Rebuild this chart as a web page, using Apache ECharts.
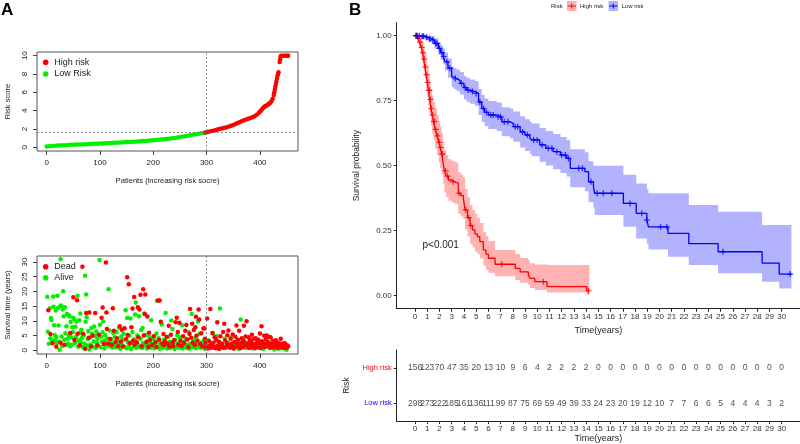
<!DOCTYPE html>
<html><head><meta charset="utf-8">
<script src="https://cdn.jsdelivr.net/npm/echarts@6/dist/echarts.min.js"></script>
<style>html,body{margin:0;padding:0;background:#fff}#c{width:800px;height:444px}</style>
</head><body><div id="c"></div>
<script>
// ---------------- DATA ----------------
// Panel A top: risk score (sorted) by patient index
const lowRiskPatient = [0,5,10,15,20,25,30,35,40,45,50,55,60,65,70,75,80,85,90,95,100,105,110,115,120,125,130,135,140,145,150,155,160,165,170,175,180,185,190,195,200,205,210,215,220,225,230,235,240,245,250,255,260,265,270,275,280,285,290,295,297];
const lowRiskScore   = [0.08,0.12,0.15,0.17,0.19,0.21,0.22,0.24,0.25,0.27,0.28,0.3,0.31,0.32,0.34,0.35,0.36,0.38,0.39,0.4,0.42,0.43,0.45,0.46,0.48,0.49,0.51,0.52,0.54,0.55,0.57,0.58,0.6,0.62,0.64,0.66,0.68,0.7,0.72,0.74,0.77,0.8,0.82,0.85,0.88,0.91,0.95,0.98,1.02,1.07,1.12,1.17,1.22,1.27,1.32,1.38,1.43,1.48,1.53,1.57,1.59];
const highRiskPatient = [298,302,306,310,314,318,322,326,330,334,338,342,346,350,354,358,362,366,370,374,378,382,386,390,394,398,400,402,404,406,408,410,412,414,416,418,420,422,424,426,427,428,429,430,431,432,433,434,435,437,438,439,440,443,446,449,452,453];
const highRiskScore   = [1.61,1.66,1.72,1.78,1.84,1.9,1.96,2.02,2.08,2.14,2.2,2.28,2.36,2.45,2.55,2.65,2.75,2.85,2.95,3.05,3.12,3.2,3.28,3.38,3.55,3.75,3.9,4.0,4.15,4.3,4.4,4.5,4.55,4.62,4.7,4.8,4.9,5.05,5.3,5.7,6.0,6.3,6.6,6.9,7.2,7.5,7.8,8.0,8.2,9.3,9.6,9.9,10,10,10,10,10,10];
const riskCutoff = 1.6;
const groupSplit = 298.5;

// Panel A bottom: survival time (years) by patient index
const alivePatients = [[1,18.2],[2,6.3],[4,2.2],[6,14.3],[7,4.1],[8,11],[9,10.3],[10,3.2],[12,18.3],[13,14.8],[14,8.5],[15,5.2],[16,3.5],[17,13.5],[18,4.5],[19,2.5],[20,18.5],[21,14.4],[22,8.4],[23,2.8],[24,0.2],[25,14.9],[26,30.9],[27,15.2],[28,4.7],[29,1.5],[30,13.9],[31,20.1],[32,11.6],[33,3.6],[34,14.6],[35,5.8],[36,1.8],[37,8.2],[38,12.3],[39,3.9],[40,2.2],[41,12],[42,5],[43,11.5],[44,1.4],[45,9.6],[46,4.4],[47,1.9],[48,7.8],[49,6.1],[50,11],[52,10.5],[53,2.5],[54,8],[55,4.5],[56,9.8],[58,18.5],[59,1.2],[60,3.3],[61,10.2],[62,5.9],[63,12.5],[64,2.7],[65,7],[66,4.2],[68,1],[70,5.2],[71,2.2],[72,25.3],[73,9.7],[74,19],[75,11.2],[76,1.6],[77,3.8],[78,6.5],[80,0.3],[81,4.3],[82,2],[84,7.6],[85,5.6],[86,1.3],[88,3],[89,8.1],[90,4.9],[92,0.8],[93,6.4],[94,2.6],[95,3.9],[96,1.7],[97,5.3],[99,30.7],[100,8.7],[101,1.1],[102,4.6],[104,2.9],[105,6.1],[106,9.8],[108,0.6],[109,3.3],[110,5.1],[112,1.8],[114,4],[116,20.7],[117,1.4],[118,6.7],[120,2.5],[121,3.7],[123,0.9],[125,5.8],[127,2.1],[128,4.4],[130,1],[131,6.2],[133,3],[135,2.3],[136,7.7],[138,0.5],[140,4.6],[141,1.9],[143,3.4],[144,5.6],[146,1.2],[148,13.6],[150,0.7],[151,11],[152,2.8],[154,1.5],[155,4.9],[157,10.8],[158,0.4],[160,2.6],[161,6.2],[163,1.3],[165,3.7],[166,12.2],[167,16.2],[168,0.9],[170,5],[171,2],[173,11.6],[174,1.1],[176,3.9],[177,6.9],[179,0.8],[180,7.6],[181,2.4],[183,12.5],[184,1.6],[186,5.2],[188,0.6],[189,3.1],[190,1.9],[192,2.6],[193,4.5],[195,0.9],[196,10.2],[197,2.2],[199,1.5],[200,3.8],[202,0.7],[203,1.8],[205,2.9],[206,5.7],[207,16.8],[208,1.2],[210,4.1],[212,0.5],[213,2.3],[215,1.6],[216,8.8],[218,0.9],[220,3.6],[221,1.8],[223,12.7],[224,2.5],[226,0.6],[228,4.6],[229,1.4],[231,2.9],[232,0.8],[234,10.1],[235,1.5],[236,7.2],[238,2.1],[240,0.4],[241,3.6],[243,1.1],[245,5.1],[246,2.4],[248,0.9],[250,4.4],[252,1.7],[254,8.5],[255,0.6],[257,2.8],[259,1.3],[261,3.9],[263,0.8],[265,1.9],[267,6.1],[268,0.5],[270,2.2],[272,12.3],[273,1],[275,3.1],[277,1.6],[279,4.3],[280,0.7],[282,2.4],[284,9.8],[285,1.2],[287,5.6],[289,0.9],[291,2.7],[293,1.5],[295,3.4],[296,0.5],[300,1.3],[303,3.4],[306,0.8],[309,2.1],[312,5.7],[316,1.1],[319,4.8],[322,0.6],[325,14.2],[327,2.3],[330,1.6],[334,3.9],[337,0.9],[340,2.6],[343,1.4],[346,4.3],[350,0.7],[353,1.9],[357,3.1],[360,0.5],[364,10.5],[367,1.8],[371,2.9],[374,0.8],[378,1.5],[382,2.2],[386,0.6],[390,1.3],[394,3.5],[398,0.9],[402,1.9],[406,0.4],[410,1.2],[414,2.4],[418,0.7],[422,1.6],[427,0.3],[431,1.1],[436,0.5],[440,1.8],[445,0.6],[450,0.2]];
const deadPatients = [[3,13.6],[7,5.5],[11,2.4],[18,1.2],[26,2.6],[33,1.9],[44,5.9],[50,18],[52,3.5],[57,17],[58,5.6],[62,1.7],[67,28.4],[68,5.6],[72,0.5],[74,12.7],[79,4.3],[80,12.8],[83,1.3],[86,4.9],[91,12.7],[95,1.6],[98,5.3],[103,11.1],[105,14.5],[107,2.1],[111,29.8],[112,12.8],[113,7.2],[115,2.3],[119,3.8],[122,1.8],[124,14.3],[126,6.6],[129,2.8],[132,4.1],[134,1.4],[137,8.2],[139,3],[141,7],[143,1.3],[146,7.5],[149,3.8],[151,24.8],[152,5.2],[154,22.4],[156,2.4],[159,7.8],[161,14.2],[162,3.3],[164,18.1],[165,1.9],[169,2.7],[171,14.6],[172,4.4],[174,13.9],[176,18.9],[178,1.4],[181,20.7],[182,5],[184,12.3],[185,19],[187,2.8],[189,11.5],[191,1.2],[192,6],[194,3.5],[198,1.8],[201,4.8],[204,2.7],[206,1.1],[209,16.9],[211,3.6],[212,16.9],[214,9.7],[217,2.3],[219,5.5],[220,1.7],[222,3.1],[225,4.5],[227,2.2],[229,8.3],[230,1.3],[233,5.3],[236,2.6],[237,1.4],[239,3.4],[242,9.5],[244,11.1],[246,6.2],[247,1.9],[249,9.4],[251,3.2],[253,1.5],[256,4.8],[258,2.5],[260,6.6],[262,8.6],[264,3.7],[266,1.1],[268,5.5],[269,14],[271,4.3],[273,9],[274,2.6],[276,6.9],[278,1.8],[279,7.8],[280,11.4],[281,4.9],[283,3.2],[285,13.9],[286,10.5],[288,2.1],[290,5.8],[292,1.3],[294,7.4],[296,7.5],[297,3.9],[298,2.5],[299,1.0],[301,10.8],[302,0.6],[304,1.4],[305,3.1],[307,14],[308,1.9],[310,0.9],[311,5.9],[313,2.6],[314,1.2],[315,4.4],[317,0.7],[318,3.5],[320,9.5],[321,1.6],[323,2.9],[324,0.5],[326,4.8],[328,1.3],[329,2.2],[331,6.2],[332,0.8],[333,9],[335,3.3],[336,1.1],[338,2.4],[339,5.1],[341,6.7],[342,1.7],[344,0.9],[345,3.9],[347,2.2],[348,1.4],[349,5.4],[351,0.6],[352,2.8],[354,4.6],[355,1.2],[356,8.4],[358,2.1],[359,3.6],[361,6.6],[362,1.5],[363,0.7],[365,2.6],[366,4.1],[368,1],[369,3.2],[370,8.3],[372,1.9],[373,4.7],[375,9.9],[376,2.4],[377,1.3],[379,4.4],[380,0.8],[381,3.5],[383,1.8],[384,2.7],[385,5.3],[387,1.1],[388,3.9],[389,2.1],[391,0.7],[392,4.1],[393,1.6],[395,2.8],[396,1.2],[397,3.6],[399,2.2],[400,5.7],[401,0.8],[403,8.2],[404,3.1],[405,1.5],[407,2.6],[408,4.9],[409,1],[411,3.8],[412,1.9],[413,5],[415,2.9],[416,4.6],[417,1.3],[419,2.2],[420,4.4],[421,0.9],[423,1.7],[424,3.2],[425,2.3],[426,1],[428,2.7],[429,1.5],[430,3.4],[432,2],[433,0.8],[434,1.8],[435,2.6],[437,1.2],[438,2],[439,3.9],[441,1.5],[442,0.9],[443,2.3],[444,1.7],[446,1.1],[447,2.4],[448,1.6],[449,0.8],[451,1.7],[452,1.2],[453,1.4]];

// Panel B: Kaplan-Meier estimates with confidence bands
const highTime  = [0,0.2,0.35,0.5,0.6,0.7,0.8,0.9,1.0,1.1,1.2,1.3,1.4,1.5,1.65,1.8,1.95,2.05,2.18,2.3,2.4,2.55,2.73,3.0,3.27,3.54,3.75,3.95,4.09,4.3,4.5,4.7,4.9,5.1,5.3,5.59,5.8,6.0,6.55,8.2,8.6,9.27,9.4,9.8,10.8,14.05,14.26];
const highSurv  = [1,0.99,0.975,0.955,0.935,0.91,0.88,0.85,0.82,0.79,0.755,0.72,0.695,0.67,0.64,0.615,0.59,0.57,0.545,0.51,0.48,0.46,0.445,0.438,0.432,0.394,0.385,0.375,0.33,0.3,0.27,0.253,0.238,0.227,0.208,0.176,0.16,0.144,0.121,0.105,0.092,0.08,0.067,0.054,0.035,0.019,0.019];
const highUpper = [1,1,1,0.99,0.975,0.955,0.93,0.905,0.88,0.85,0.82,0.79,0.77,0.745,0.72,0.695,0.67,0.65,0.625,0.59,0.56,0.54,0.525,0.518,0.512,0.475,0.465,0.455,0.41,0.38,0.35,0.33,0.315,0.3,0.28,0.245,0.23,0.21,0.176,0.16,0.145,0.135,0.125,0.12,0.118,0.118,0.118];
const highLower = [1,0.98,0.955,0.93,0.9,0.87,0.835,0.8,0.765,0.73,0.69,0.655,0.625,0.6,0.565,0.54,0.51,0.49,0.465,0.43,0.4,0.38,0.365,0.358,0.352,0.315,0.305,0.295,0.255,0.228,0.2,0.185,0.17,0.16,0.143,0.115,0.1,0.088,0.075,0.06,0.05,0.04,0.03,0.022,0.012,0.004,0.004];
const highCensor = [0.05,0.12,0.3,0.42,0.55,0.65,0.75,0.85,0.95,1.03,1.12,1.17,1.25,1.33,1.45,1.55,1.6,1.7,1.85,2.0,2.12,2.2,2.25,2.5,2.65,3.1,3.6,4.15,4.4,4.55,7.1,10.5,14.2];

const lowTime  = [0,0.5,0.8,1.1,1.36,1.6,1.91,2.1,2.3,2.45,2.7,3.0,3.2,3.4,3.68,4.0,4.23,4.5,4.9,5.2,5.46,5.7,6.0,6.68,7.1,7.77,8.04,8.6,9.0,9.4,9.55,10.2,10.7,11.3,11.9,12.4,12.7,13.9,14.2,14.6,14.7,17.05,18.1,18.97,19.1,20.7,22.4,24.8,28.4,29.8,30.8];
const lowSurv  = [1,0.998,0.994,0.988,0.983,0.97,0.951,0.935,0.92,0.9,0.875,0.842,0.835,0.828,0.817,0.8,0.791,0.785,0.778,0.745,0.72,0.705,0.695,0.688,0.669,0.663,0.65,0.63,0.618,0.607,0.599,0.58,0.567,0.554,0.541,0.528,0.49,0.477,0.438,0.419,0.394,0.355,0.317,0.291,0.265,0.24,0.2,0.169,0.125,0.083,0.083];
const lowUpper = [1,1,1,1,1,0.99,0.976,0.963,0.951,0.935,0.912,0.882,0.876,0.87,0.86,0.845,0.837,0.832,0.826,0.795,0.772,0.758,0.749,0.743,0.725,0.72,0.708,0.69,0.679,0.669,0.662,0.645,0.633,0.622,0.61,0.598,0.563,0.552,0.517,0.5,0.5,0.465,0.432,0.41,0.394,0.394,0.349,0.323,0.272,0.272,0.272];
const lowLower = [1,0.99,0.984,0.975,0.966,0.95,0.926,0.907,0.89,0.866,0.838,0.802,0.794,0.786,0.774,0.755,0.745,0.738,0.73,0.695,0.668,0.652,0.641,0.633,0.613,0.606,0.592,0.57,0.557,0.545,0.536,0.515,0.501,0.486,0.472,0.458,0.417,0.402,0.359,0.338,0.31,0.265,0.22,0.2,0.178,0.15,0.118,0.086,0.054,0.028,0.028];
const lowCensor = [0.1,0.2,0.35,0.6,0.7,0.95,1.2,1.45,1.7,1.8,2.0,2.2,2.35,2.6,2.85,3.3,3.8,4.1,4.35,4.7,5.0,5.3,5.6,5.85,6.2,6.4,6.8,7.0,7.3,7.6,8.2,8.4,8.8,9.2,9.7,10.0,10.4,10.9,11.2,11.6,12.0,12.3,12.55,13.4,13.7,14.4,14.9,15.4,16.1,17.6,18.55,18.97,20.1,20.6,25.2,30.7];

// Risk table: number at risk
const tableTimes = [0,1,2,3,4,5,6,7,8,9,10,11,12,13,14,15,16,17,18,19,20,21,22,23,24,25,26,27,28,29,30];
const highAtRisk = [156,123,70,47,35,20,13,10,9,6,4,2,2,2,2,0,0,0,0,0,0,0,0,0,0,0,0,0,0,0,0];
const lowAtRisk  = [298,273,222,185,161,136,111,99,87,75,69,59,49,39,33,24,23,20,19,12,10,7,7,6,6,5,4,4,4,3,2];
const tableGroups = ['Low risk','High risk'];

// Tick labels
const patientTicks = [0,100,200,300,400];
const riskTicks = [0,2,4,6,8,10];
const survTimeTicks = [0,5,10,15,20,25,30];
const probTicks = [0,0.25,0.5,0.75,1];

// ---------------- CHART ----------------
const FONT = "'Liberation Sans', Arial, Helvetica, sans-serif";
const RED = '#FF0000', GREEN = '#00F000', BLUE = '#0000FF', INK = '#222';
const PLUS = 'path://M0.8,0H1.2V0.8H2V1.2H1.2V2H0.8V1.2H0V0.8H0.8Z';

function stepAt(T, S, t) { let v = S[0]; for (let i = 0; i < T.length; i++) { if (T[i] <= t) v = S[i]; else break; } return v; }

function rAxisX(gi) {
  return { gridIndex: gi, type: 'value', min: -18.2, max: 471.5,
    axisLine: { show: false, onZero: false },
    axisTick: { show: true, customValues: patientTicks, length: 4, lineStyle: { color: '#444' } },
    axisLabel: { customValues: patientTicks, fontSize: 8, color: INK, margin: 8, fontFamily: FONT },
    splitLine: { show: false },
    name: 'Patients (increasing risk socre)', nameLocation: 'middle', nameGap: 26,
    nameTextStyle: { fontSize: 7.6, color: INK, fontFamily: FONT } };
}
function rAxisY(gi, min, max, ticks, name) {
  return { gridIndex: gi, type: 'value', min, max,
    axisLine: { show: false, onZero: false },
    axisTick: { show: true, customValues: ticks, length: 4, lineStyle: { color: '#444' } },
    axisLabel: { customValues: ticks, rotate: 90, fontSize: 8, color: INK, margin: 8, fontFamily: FONT },
    splitLine: { show: false },
    name, nameLocation: 'middle', nameGap: 25,
    nameTextStyle: { fontSize: 7.6, color: INK, fontFamily: FONT } };
}
function kmAxisX(gi, nameGap) {
  return { gridIndex: gi, type: 'value', min: -1.5, max: 31.5,
    axisLine: { show: true, onZero: false, lineStyle: { color: INK, width: 1 } },
    axisTick: { show: true, customValues: tableTimes, length: 3, lineStyle: { color: INK } },
    axisLabel: { customValues: tableTimes, fontSize: 8, color: '#333', margin: 4, fontFamily: FONT },
    splitLine: { show: false },
    name: 'Time(years)', nameLocation: 'middle', nameGap,
    nameTextStyle: { fontSize: 9, color: INK, fontFamily: FONT } };
}
// confidence band drawn as one stepped polygon through the axis scales
function band(T, L, U, color) {
  return { type: 'custom', xAxisIndex: 2, yAxisIndex: 2, silent: true, z: 1,
    data: [[T[0], U[0]]],
    renderItem: (params, api) => {
      const n = T.length, pts = [];
      for (let i = 0; i < n; i++) {
        const xe = i < n - 1 ? T[i + 1] : T[i];
        pts.push(api.coord([T[i], U[i]]), api.coord([xe, U[i]]));
      }
      for (let i = n - 1; i >= 0; i--) {
        const xe = i < n - 1 ? T[i + 1] : T[i];
        pts.push(api.coord([xe, L[i]]), api.coord([T[i], L[i]]));
      }
      return { type: 'polygon', shape: { points: pts }, style: { fill: color } };
    } };
}
function kmLine(T, S, color) {
  return { type: 'line', xAxisIndex: 2, yAxisIndex: 2, step: 'end', symbol: 'none', silent: true,
    lineStyle: { color, width: 1.3 }, data: T.map((t, i) => [t, S[i]]), z: 3 };
}
function censor(T, S, C, color) {
  return { type: 'scatter', xAxisIndex: 2, yAxisIndex: 2, symbol: PLUS, symbolSize: 6, silent: true,
    itemStyle: { color }, data: C.map(t => [t, stepAt(T, S, t)]), z: 4 };
}
function tableRow(name, counts) {
  return { type: 'scatter', xAxisIndex: 3, yAxisIndex: 3, symbolSize: 1, silent: true,
    itemStyle: { color: 'rgba(0,0,0,0)' },
    label: { show: true, position: 'inside', formatter: p => String(p.value[2]), fontSize: 8.5, color: INK, fontFamily: FONT },
    data: tableTimes.map((t, i) => [t, name, counts[i]]) };
}
function legendDot(x, y, color, text) {
  return [
    { type: 'circle', shape: { cx: x, cy: y, r: 2.8 }, style: { fill: color } },
    { type: 'text', x: x + 8.5, y, style: { text, fontSize: 9, fill: INK, fontFamily: FONT, verticalAlign: 'middle' } }
  ];
}
function kmKey(x, color, fill, text) {
  return [
    { type: 'rect', shape: { x, y: 1, width: 9.5, height: 10 }, style: { fill } },
    { type: 'line', shape: { x1: x + 0.5, y1: 6, x2: x + 9, y2: 6 }, style: { stroke: color, lineWidth: 1 } },
    { type: 'line', shape: { x1: x + 4.75, y1: 3.5, x2: x + 4.75, y2: 8.5 }, style: { stroke: color, lineWidth: 1 } },
    { type: 'text', x: x + 13, y: 6, style: { text, fontSize: 6, fill: INK, fontFamily: FONT, verticalAlign: 'middle' } }
  ];
}

const dashed = { color: '#777', width: 0.8, type: [2, 2] };

const option = {
  animation: false,
  textStyle: { fontFamily: FONT },
  grid: [
    { left: 37, top: 52, width: 261, height: 99, show: true, borderColor: '#555', borderWidth: 1, backgroundColor: 'transparent' },
    { left: 37, top: 256, width: 261, height: 98, show: true, borderColor: '#555', borderWidth: 1, backgroundColor: 'transparent' },
    { left: 396.7, top: 22.7, width: 403.3, height: 286 },
    { left: 396.7, top: 350, width: 403.3, height: 72 }
  ],
  xAxis: [ rAxisX(0), rAxisX(1), kmAxisX(2, 12), kmAxisX(3, 12) ],
  yAxis: [
    rAxisY(0, -0.4, 10.4, riskTicks, 'Risk score'),
    rAxisY(1, -1.26, 32.04, survTimeTicks, 'Survival time (years)'),
    { gridIndex: 2, type: 'value', min: -0.05, max: 1.05,
      axisLine: { show: true, onZero: false, lineStyle: { color: INK, width: 1 } },
      axisTick: { show: true, customValues: probTicks, length: 3, lineStyle: { color: INK } },
      axisLabel: { customValues: probTicks, fontSize: 8, color: '#333', margin: 5, fontFamily: FONT, formatter: v => v.toFixed(2) },
      splitLine: { show: false },
      name: 'Survival probability', nameLocation: 'middle', nameGap: 36,
      nameTextStyle: { fontSize: 8.5, color: INK, fontFamily: FONT } },
    { gridIndex: 3, type: 'category', data: tableGroups,
      axisLine: { show: true, onZero: false, lineStyle: { color: INK, width: 1 } },
      axisTick: { show: true, alignWithLabel: true, length: 3, lineStyle: { color: INK } },
      axisLabel: { fontSize: 7.5, margin: 5, fontFamily: FONT, color: v => (v === 'High risk' ? RED : BLUE) },
      name: 'Risk', nameLocation: 'middle', nameGap: 36,
      nameTextStyle: { fontSize: 8.5, color: INK, fontFamily: FONT } }
  ],
  series: [
    // Panel A top
    { type: 'scatter', xAxisIndex: 0, yAxisIndex: 0, symbolSize: 4.5, silent: true, itemStyle: { color: GREEN, opacity: 1 },
      data: lowRiskPatient.map((p, i) => [p, lowRiskScore[i]]),
      markLine: { silent: true, symbol: ['none', 'none'], label: { show: false }, lineStyle: dashed,
        data: [{ xAxis: groupSplit }, { yAxis: riskCutoff }] } },
    { type: 'scatter', xAxisIndex: 0, yAxisIndex: 0, symbolSize: 4.5, silent: true, itemStyle: { color: RED, opacity: 1 },
      data: highRiskPatient.map((p, i) => [p, highRiskScore[i]]) },
    // Panel A bottom
    { type: 'scatter', xAxisIndex: 1, yAxisIndex: 1, symbolSize: 4.5, silent: true, itemStyle: { color: GREEN, opacity: 1 },
      data: alivePatients,
      markLine: { silent: true, symbol: ['none', 'none'], label: { show: false }, lineStyle: dashed,
        data: [{ xAxis: groupSplit }] } },
    { type: 'scatter', xAxisIndex: 1, yAxisIndex: 1, symbolSize: 4.5, silent: true, itemStyle: { color: RED, opacity: 1 },
      data: deadPatients },
    // Panel B KM
    band(highTime, highLower, highUpper, 'rgba(255,0,0,0.3)'),
    band(lowTime, lowLower, lowUpper, 'rgba(0,0,255,0.3)'),
    kmLine(highTime, highSurv, RED),
    kmLine(lowTime, lowSurv, BLUE),
    censor(highTime, highSurv, highCensor, RED),
    censor(lowTime, lowSurv, lowCensor, BLUE),
    // Risk table
    tableRow('High risk', highAtRisk),
    tableRow('Low risk', lowAtRisk)
  ],
  graphic: [
    { type: 'text', x: 1, y: 2, style: { text: 'A', fontSize: 17, fontWeight: 'bold', fill: '#000', fontFamily: FONT } },
    { type: 'text', x: 349, y: 2, style: { text: 'B', fontSize: 17, fontWeight: 'bold', fill: '#000', fontFamily: FONT } },
    ...legendDot(45.7, 62.3, RED, 'High risk'),
    ...legendDot(45.7, 74, GREEN, 'Low Risk'),
    ...legendDot(45.7, 266.7, RED, 'Dead'),
    ...legendDot(45.7, 277.7, GREEN, 'Alive'),
    { type: 'text', x: 551, y: 6, style: { text: 'Risk', fontSize: 6, fill: INK, fontFamily: FONT, verticalAlign: 'middle' } },
    ...kmKey(567, RED, 'rgba(255,0,0,0.3)', 'High risk'),
    ...kmKey(608.5, BLUE, 'rgba(0,0,255,0.3)', 'Low risk'),
    { type: 'text', x: 422.5, y: 245, style: { text: 'p<0.001', fontSize: 10, fill: INK, fontFamily: FONT, verticalAlign: 'middle' } }
  ]
};

const chart = echarts.init(document.getElementById('c'), null, { renderer: 'canvas' });
chart.setOption(option);
</script></body></html>
